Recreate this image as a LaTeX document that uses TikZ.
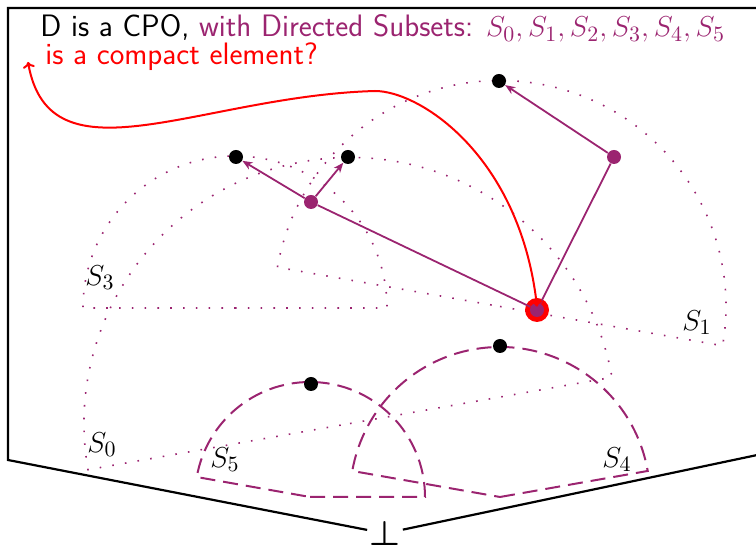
\documentclass[tikz,border=0pt]{standalone}
\usepackage{amsmath}
\usepackage{tikz}
\usetikzlibrary{arrows.meta,calc}
\definecolor{setcol}{HTML}{9B2470}
\definecolor{hint}{HTML}{FF0000}
\tikzset{
  frame/.style={draw=black,line width=1.1pt},
  dotset/.style={draw=setcol,line width=0.8pt,dash pattern=on 0.8pt off 5.6pt},
  dashset/.style={draw=setcol,line width=1pt,dash pattern=on 7.5pt off 4pt},
  elem/.style={circle,fill=black,inner sep=0pt,minimum size=7pt},
  chainel/.style={elem,fill=setcol},
  ring/.style={circle,fill=hint,inner sep=0pt,minimum size=12pt},
  order/.style={draw=setcol,line width=0.9pt,-{Stealth[length=5pt,width=4pt,inset=1.5pt]}},
  cover/.style={draw=setcol,line width=0.9pt},
  query/.style={draw=hint,line width=1pt,{To[length=3pt,width=6pt]}-{To[length=3pt,width=6pt]}},
  setname/.style={font=\fontsize{15}{18}\selectfont,inner sep=0pt},
  headline/.style={font=\sffamily\fontsize{15.5}{18}\selectfont,inner sep=0pt,anchor=base west}
}

\begin{document}
\begin{tikzpicture}[x=0.5pt,y=0.5pt]
  \path[use as bounding box,clip] (0,0) rectangle (756,546);

  % frame of D with bottom element
  \node[font=\fontsize{17}{18}\selectfont,inner sep=1pt,anchor=north] (bot) at (385,27) {$\boldsymbol{\bot}$};
  \coordinate (fl) at (8,86);
  \coordinate (ftl) at (8,538);
  \coordinate (ftr) at (800,538);
  \coordinate (fbr) at (800,100);
  \draw[frame] (fbr) -- (bot) -- (fl) -- (ftl) -- (ftr);

  % directed subsets
  \coordinate (c0) at (350,122.5);
  \coordinate (c1) at (500,239.5);
  \coordinate (c3) at (235,238);
  \coordinate (c4) at (500,49);
  \coordinate (c5) at (310,49);
  \draw[dotset] (c0) -- ++(10:266) arc[start angle=10,end angle=190,radius=266] -- cycle;
  \draw[dotset] (c1) -- ++(-10:226) arc[start angle=-10,end angle=170,radius=226] -- cycle;
  \draw[dotset] (c3) -- ++(0:152) arc[start angle=0,end angle=180,radius=152] -- cycle;
  \draw[dashset] (c4) -- ++(10:150) arc[start angle=10,end angle=170,radius=150] -- cycle;
  \draw[dashset] (c5) -- ++(0:115) arc[start angle=0,end angle=170,radius=115] -- cycle;

  \node[setname] (l0) at (102,101) {$S_0$};
  \node[setname] (l1) at (697,223) {$S_1$};
  \node[setname] (l3) at (100,268) {$S_3$};
  \node[setname] (l4) at (617,86) {$S_4$};
  \node[setname] (l5) at (225,86) {$S_5$};

  % elements
  \node[elem] (t1) at (499,465) {};
  \node[elem] (t2) at (236,389) {};
  \node[elem] (t3) at (348,389) {};
  \node[elem] (t4) at (311,162) {};
  \node[elem] (t5) at (500,200) {};
  \node[ring] (cmp) at (537,236) {};
  \node[chainel] (m1) at (311,344) {};
  \node[chainel] (m2) at (614,389) {};
  \node[chainel] (m0) at (537,236) {};

  \draw[order] (m1) -- (t2);
  \draw[order] (m1) -- (t3);
  \draw[order] (m2) -- (t1);
  \draw[cover] (m0) -- (m1);
  \draw[cover] (m0) -- (m2);

  % title
  \node[headline] (head) at (40,509) {D is a CPO, \textcolor{setcol}{with Directed Subsets: $S_0,S_1,S_2,S_3,S_4,S_5$}};
  \node[headline,text=hint] (ask) at (45,481) {is a compact element?};
  \coordinate (tail) at (28,484);
  \draw[query] (tail) .. controls (50,360) and (200,450) .. (375,455)
    .. controls (420,455) and (520,390) .. ([yshift=-4.5pt]cmp.north);
\end{tikzpicture}
\end{document}
